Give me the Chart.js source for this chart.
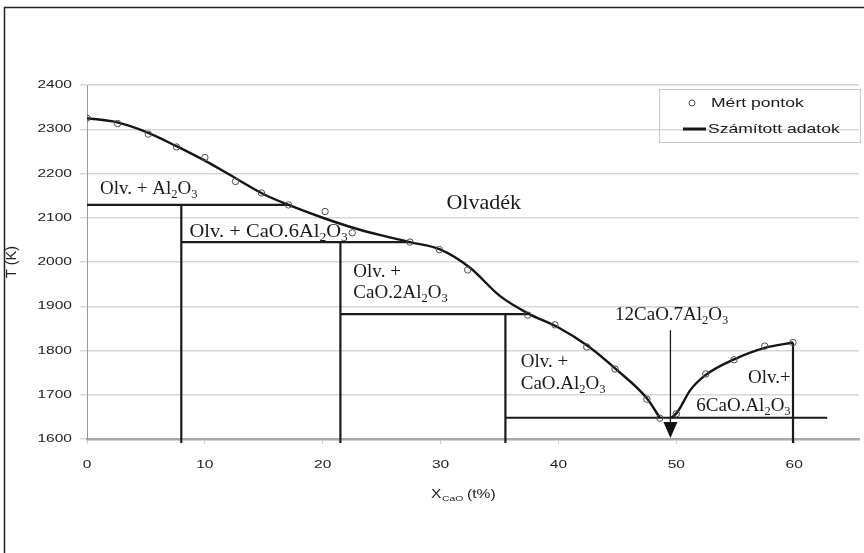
<!DOCTYPE html>
<html>
<head>
<meta charset="utf-8">
<script src="https://cdn.jsdelivr.net/npm/chart.js@4.4.0/dist/chart.umd.min.js"></script>
<style>
html, body { margin: 0; padding: 0; background: #fff; }
#wrap { width: 864px; height: 553px; position: relative; }
</style>
</head>
<body>
<div id="wrap"><canvas id="chart" width="864" height="553"></canvas></div>
<script>
// Mért pontok (measured)
const measX = [0, 2.6, 5.2, 7.6, 10.0, 12.6, 14.8, 17.1, 20.2, 22.5, 27.4, 29.9, 32.3, 37.4, 39.7, 42.4, 44.8, 47.5, 48.6, 50.0, 52.5, 54.9, 57.5, 59.9];
const measT = [2325, 2313, 2289, 2260, 2236, 2182, 2156, 2129, 2114, 2066, 2045, 2028, 1982, 1880, 1858, 1808, 1758, 1690, 1647, 1657, 1747, 1779, 1810, 1818];

// Számított adatok (calculated liquidus), two branches
const calcLeftX = [0, 2.5, 5, 7.5, 10, 12.5, 15, 17.1, 20, 22.5, 25, 27.4, 30, 32.5, 35, 37.4, 40, 42.5, 45, 47.5, 48.6];
const calcLeftT = [2325, 2316, 2294, 2263, 2229, 2191, 2153, 2129, 2100, 2078, 2060, 2045, 2028, 1987, 1924, 1884, 1852, 1810, 1755, 1692, 1648];
const calcRightX = [49.6, 50.1, 51.2, 52.5, 54.9, 57.5, 59.9];
const calcRightT = [1648, 1661, 1711, 1745, 1780, 1806, 1818];

// phase boundaries
const horizT = [2129, 2045, 1882, 1648];
const horizFrom = [0, 8, 21.5, 35.5];
const horizTo = [17.1, 27.4, 37.4, 62.8];
const vertX = [8, 21.5, 35.5, 59.9];
const vertTop = [2129, 2045, 1882, 1818];
const vertBottom = 1591;

// 12CaO.7Al2O3 arrow
const arrowX = 49.5;
const arrowTop = 1846;
const arrowTip = 1602;

// region labels
const regionText = ['Olv. + Al_2O_3', 'Olvadék', 'Olv. + CaO.6Al_2O_3', 'Olv. +', 'CaO.2Al_2O_3', '12CaO.7Al_2O_3', 'Olv. +', 'CaO.Al_2O_3', 'Olv.+', '6CaO.Al_2O_3'];
const regionX = [1.1, 30.5, 8.7, 22.6, 22.6, 44.8, 36.8, 36.8, 59.7, 59.7];
const regionT = [2154, 2120, 2057, 1966, 1919, 1869, 1763, 1713, 1727, 1663];

const xTickValues = [0, 10, 20, 30, 40, 50, 60];
const yTickValues = [1600, 1700, 1800, 1900, 2000, 2100, 2200, 2300, 2400];

const legendLabels = ['Mért pontok', 'Számított adatok'];

const SANS = '"Liberation Sans", Arial, sans-serif';
const SERIF = '"Liberation Serif", "Times New Roman", serif';

function toPoints(xs, ys) {
    return xs.map((x, i) => ({ x: x, y: ys[i] }));
}

const datasets = [];

datasets.push({
    label: legendLabels[0],
    data: toPoints(measX, measT),
    showLine: false,
    pointStyle: 'circle',
    pointRadius: 3.2,
    pointBorderWidth: 1,
    pointBorderColor: '#4a4a4a',
    pointBackgroundColor: 'rgba(255,255,255,0)'
});

[[calcLeftX, calcLeftT], [calcRightX, calcRightT]].forEach(b => {
    datasets.push({
        label: legendLabels[1],
        data: toPoints(b[0], b[1]),
        showLine: true,
        borderColor: '#151515',
        borderWidth: 2.4,
        pointRadius: 0,
        cubicInterpolationMode: 'monotone'
    });
});

horizT.forEach((t, i) => {
    datasets.push({
        data: [{ x: horizFrom[i], y: t }, { x: horizTo[i], y: t }],
        showLine: true,
        borderColor: '#1a1a1a',
        borderWidth: 2.2,
        pointRadius: 0,
        clip: false
    });
});

vertX.forEach((x, i) => {
    datasets.push({
        data: [{ x: x, y: vertBottom }, { x: x, y: vertTop[i] }],
        showLine: true,
        borderColor: '#1a1a1a',
        borderWidth: 2.2,
        pointRadius: 0,
        clip: false
    });
});

datasets.push({
    data: [{ x: arrowX, y: arrowTop }, { x: arrowX, y: arrowTip + 30 }],
    showLine: true,
    borderColor: '#1a1a1a',
    borderWidth: 1.3,
    pointRadius: 0
});

function drawRich(ctx, str, x, y, size, align, sx) {
    const parts = str.split(/_(\d)/);
    const segs = parts.map((p, i) => ({ t: p, sub: i % 2 === 1 })).filter(s => s.t.length);
    let w = 0;
    segs.forEach(s => {
        ctx.font = (s.sub ? size * 0.66 : size) + 'px ' + SERIF;
        s.w = ctx.measureText(s.t).width;
        w += s.w;
    });
    ctx.save();
    ctx.translate(align === 'right' ? x - w * sx : x, y);
    ctx.scale(sx, 1);
    ctx.textAlign = 'left';
    ctx.textBaseline = 'alphabetic';
    let cx = 0;
    segs.forEach(s => {
        ctx.font = (s.sub ? size * 0.66 : size) + 'px ' + SERIF;
        ctx.fillText(s.t, cx, s.sub ? size * 0.2 : 0);
        cx += s.w;
    });
    ctx.restore();
}

function wideText(ctx, text, x, y, sx, align) {
    ctx.save();
    ctx.translate(x, y);
    ctx.scale(sx, 1);
    ctx.textAlign = align;
    ctx.fillText(text, 0, 0);
    ctx.restore();
}

const decorations = {
    id: 'decorations',
    afterDraw(chart) {
        const ctx = chart.ctx;
        const xs = chart.scales.x;
        const ys = chart.scales.y;
        ctx.save();

        // frame
        ctx.strokeStyle = '#222';
        ctx.lineWidth = 1.5;
        ctx.strokeRect(4.5, 7.5, 900, 600);

        // tick labels
        ctx.fillStyle = '#222';
        ctx.font = '11.5px ' + SANS;
        ctx.textBaseline = 'middle';
        yTickValues.forEach(v => {
            wideText(ctx, String(v), 72, ys.getPixelForValue(v), 1.35, 'right');
        });
        xTickValues.forEach(v => {
            wideText(ctx, String(v), xs.getPixelForValue(v), 465, 1.35, 'center');
        });

        // axis titles
        ctx.font = '12px ' + SANS;
        ctx.save();
        ctx.translate(12, 262);
        ctx.rotate(-Math.PI / 2);
        ctx.scale(1.2, 1.2);
        ctx.textAlign = 'center';
        ctx.fillText('T (K)', 0, 0);
        ctx.restore();

        ctx.textBaseline = 'alphabetic';
        ctx.font = '12px ' + SANS;
        wideText(ctx, 'X', 431, 498, 1.3, 'left');
        ctx.font = '8px ' + SANS;
        wideText(ctx, 'CaO', 442, 501, 1.3, 'left');
        ctx.font = '12px ' + SANS;
        wideText(ctx, '(t%)', 467, 498, 1.3, 'left');

        // region labels
        ctx.fillStyle = '#1a1a1a';
        regionText.forEach((t, i) => {
            const px = xs.getPixelForValue(regionX[i]);
            const py = ys.getPixelForValue(regionT[i]);
            const size = t === 'Olvadék' ? 22 : 19;
            const align = i >= 8 ? 'right' : 'left';
            const sx = i === 2 ? 1.08 : 1;
            drawRich(ctx, t, px, py, size, align, sx);
        });

        // arrow head
        const ax = xs.getPixelForValue(arrowX);
        const tip = ys.getPixelForValue(arrowTip);
        ctx.beginPath();
        ctx.moveTo(ax, tip);
        ctx.lineTo(ax - 7, tip - 16);
        ctx.lineTo(ax + 7, tip - 16);
        ctx.closePath();
        ctx.fillStyle = '#111';
        ctx.fill();

        // legend
        ctx.strokeStyle = '#c8c8c8';
        ctx.lineWidth = 1;
        ctx.strokeRect(659.5, 89.5, 201, 53);
        ctx.beginPath();
        ctx.arc(692, 103, 3, 0, Math.PI * 2);
        ctx.strokeStyle = '#4a4a4a';
        ctx.stroke();
        ctx.beginPath();
        ctx.moveTo(683, 129);
        ctx.lineTo(706, 129);
        ctx.strokeStyle = '#151515';
        ctx.lineWidth = 3;
        ctx.stroke();
        ctx.fillStyle = '#1a1a1a';
        ctx.font = '13.5px ' + SANS;
        ctx.textBaseline = 'middle';
        wideText(ctx, legendLabels[0], 711, 103, 1.3, 'left');
        wideText(ctx, legendLabels[1], 708, 129, 1.3, 'left');

        ctx.restore();
    }
};

new Chart(document.getElementById('chart'), {
    type: 'scatter',
    data: { datasets: datasets },
    options: {
        responsive: false,
        animation: false,
        devicePixelRatio: 1,
        layout: { padding: { top: 85, right: 2, left: 0, bottom: 0 } },
        plugins: { legend: { display: false }, tooltip: { enabled: false } },
        scales: {
            x: {
                type: 'linear',
                min: 0,
                max: 65.5,
                ticks: { display: false, stepSize: 10, includeBounds: false },
                grid: { drawOnChartArea: false, tickLength: 5, color: '#d0d0d0' },
                border: { color: '#a8a8a8', width: 2.5 },
                afterFit(scale) { scale.height = 114; }
            },
            y: {
                type: 'linear',
                min: 1600,
                max: 2400,
                ticks: { display: false, stepSize: 100 },
                grid: { color: '#d6d6d6', lineWidth: 1.5, tickLength: 7 },
                border: { color: '#9a9a9a', width: 1 },
                afterFit(scale) { scale.width = 87; }
            }
        }
    },
    plugins: [decorations]
});
</script>
</body>
</html>
